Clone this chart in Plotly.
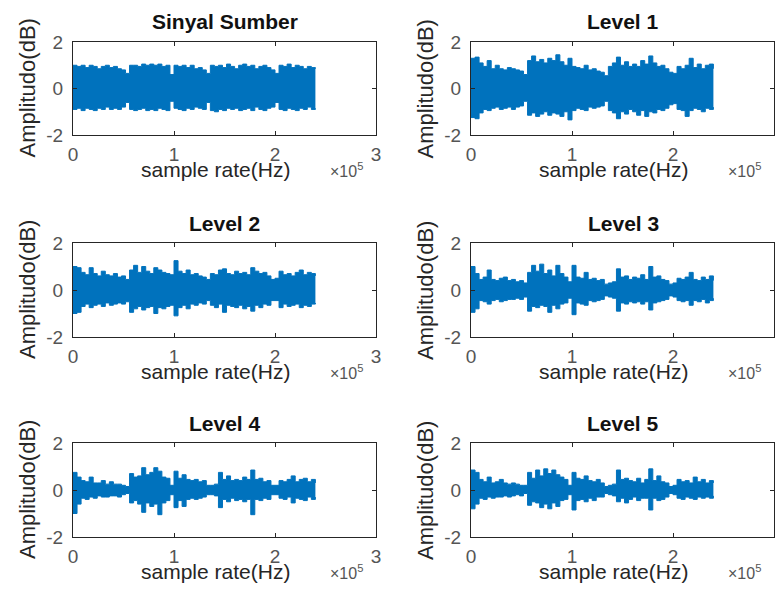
import plotly.graph_objects as go
from plotly.subplots import make_subplots

# ---------------- data (envelope of each waveform) ----------------
panel_titles = ["Sinyal Sumber", "Level 1", "Level 2", "Level 3", "Level 4", "Level 5"]
x_label = "sample rate(Hz)"
y_label = "Amplitudo(dB)"
sample_step = 4000  # samples between envelope readings (0 .. 240000)

x_tick_vals = [0, 100000, 200000, 300000]
x_tick_text = ["0", "1", "2", "3"]
y_tick_vals = [-2, 0, 2]
y_tick_text = ["-2", "0", "2"]

sumber_upper = [1.00, 0.95, 1.00, 0.90, 1.00, 0.95, 0.85, 0.95, 1.00, 0.90,
                0.95, 0.85, 0.80, 0.65, 1.00, 1.00, 0.95, 1.05, 1.00, 1.05,
                1.00, 1.05, 0.95, 1.00, 0.60, 1.00, 0.95, 1.00, 0.90, 1.00,
                0.85, 0.90, 0.80, 0.65, 1.00, 0.95, 1.00, 0.90, 1.05, 0.95,
                0.85, 1.00, 1.05, 0.95, 1.00, 0.85, 0.95, 1.00, 0.90, 0.80,
                0.65, 1.00, 0.95, 1.05, 0.90, 1.00, 0.95, 0.85, 0.95, 0.90,
                0.85]
sumber_lower = [-0.90, -0.85, -0.95, -0.85, -0.90, -0.95, -0.85, -0.90, -0.80, -0.90,
                -0.85, -0.90, -0.80, -0.60, -0.90, -0.95, -0.90, -0.85, -0.95, -0.90,
                -0.95, -0.85, -0.90, -0.95, -0.55, -0.85, -0.90, -0.95, -0.85, -0.90,
                -0.80, -0.85, -0.90, -0.60, -0.95, -1.00, -0.90, -0.95, -0.85, -0.90,
                -0.85, -0.95, -0.90, -0.85, -0.95, -0.80, -0.90, -0.95, -0.85, -0.80,
                -0.60, -0.90, -0.95, -0.85, -0.90, -0.95, -0.85, -0.90, -0.80, -0.90,
                -0.85]

level1_upper = [1.30, 1.35, 1.10, 0.95, 1.20, 0.85, 1.00, 0.85, 0.80, 0.90,
                0.85, 0.80, 0.75, 0.60, 1.20, 1.40, 1.15, 1.25, 1.10, 1.30,
                1.20, 1.45, 1.15, 1.00, 1.30, 0.95, 0.90, 0.85, 1.00, 0.80,
                0.85, 0.75, 0.70, 0.55, 0.95, 1.10, 1.35, 1.00, 1.15, 0.95,
                1.05, 0.95, 1.20, 1.05, 1.40, 1.10, 0.95, 1.00, 0.85, 0.70,
                0.65, 0.95, 0.85, 1.00, 1.30, 0.90, 1.05, 0.85, 1.00, 1.05,
                0.85]
level1_lower = [-1.25, -1.30, -1.05, -0.90, -0.95, -0.85, -0.80, -0.90, -0.85, -0.80,
                -0.90, -0.80, -0.75, -0.55, -1.15, -1.05, -1.20, -1.10, -1.00, -1.15,
                -1.05, -1.10, -1.20, -1.00, -1.35, -0.95, -0.85, -0.90, -0.95, -0.80,
                -0.85, -0.80, -0.75, -0.55, -0.95, -1.05, -1.30, -1.00, -1.10, -0.90,
                -1.00, -1.15, -0.95, -1.20, -1.00, -1.05, -0.90, -0.95, -0.85, -0.70,
                -0.65, -0.90, -0.95, -1.20, -0.95, -0.85, -0.90, -1.00, -0.85, -0.90,
                -0.80]

level2_upper = [1.00, 0.95, 0.75, 0.65, 0.95, 0.70, 0.60, 0.80, 0.65, 0.60,
                0.70, 0.55, 0.60, 0.45, 0.85, 1.05, 0.75, 1.00, 0.80, 0.70,
                0.95, 0.85, 0.75, 0.70, 0.65, 1.25, 0.80, 0.70, 0.85, 0.65,
                0.70, 0.60, 0.55, 0.45, 0.70, 0.65, 0.85, 0.90, 0.70, 0.65,
                0.80, 0.70, 0.75, 0.65, 0.95, 0.80, 0.70, 0.75, 0.60, 0.45,
                0.50, 0.80, 0.65, 0.70, 0.60, 0.75, 0.85, 0.65, 0.75, 0.70,
                0.60]
level2_lower = [-1.00, -0.95, -0.70, -0.60, -0.75, -0.65, -0.60, -0.70, -0.55, -0.65,
                -0.60, -0.55, -0.60, -0.50, -0.95, -0.80, -0.70, -0.85, -0.75, -0.70,
                -1.00, -0.75, -0.80, -0.70, -0.65, -1.10, -0.75, -0.65, -0.80, -0.60,
                -0.65, -0.55, -0.60, -0.45, -0.65, -0.75, -0.60, -0.95, -0.65, -0.70,
                -0.75, -0.65, -0.80, -0.70, -0.90, -0.65, -0.75, -0.60, -0.65, -0.45,
                -0.45, -0.75, -0.60, -0.70, -0.65, -0.60, -0.75, -0.65, -0.70, -0.60,
                -0.55]

level3_upper = [1.00, 0.70, 0.45, 0.55, 0.85, 0.45, 0.40, 0.50, 0.55, 0.40,
                0.45, 0.35, 0.40, 0.30, 0.75, 1.05, 0.80, 1.10, 0.70, 0.85,
                0.60, 1.05, 0.70, 0.55, 0.35, 1.05, 0.55, 0.50, 0.75, 0.45,
                0.50, 0.40, 0.45, 0.25, 0.30, 0.35, 0.90, 0.55, 0.60, 0.45,
                0.55, 0.50, 0.65, 0.45, 1.00, 0.55, 0.60, 0.45, 0.40, 0.25,
                0.30, 0.50, 0.45, 0.55, 0.75, 0.45, 0.40, 0.55, 0.45, 0.60,
                0.40]
level3_lower = [-0.95, -0.80, -0.45, -0.50, -0.60, -0.45, -0.40, -0.50, -0.45, -0.40,
                -0.40, -0.35, -0.40, -0.30, -0.90, -0.70, -0.75, -0.65, -0.70, -0.95,
                -0.65, -0.80, -0.60, -0.55, -0.35, -1.05, -0.55, -0.60, -0.65, -0.45,
                -0.50, -0.45, -0.40, -0.25, -0.30, -0.35, -0.90, -0.55, -0.60, -0.50,
                -0.55, -0.50, -0.60, -0.50, -0.85, -0.55, -0.50, -0.45, -0.40, -0.25,
                -0.30, -0.45, -0.50, -0.45, -0.65, -0.45, -0.50, -0.40, -0.55, -0.45,
                -0.35]

level4_upper = [0.75, 0.55, 0.40, 0.35, 0.55, 0.30, 0.30, 0.40, 0.25, 0.35,
                0.25, 0.25, 0.20, 0.15, 0.70, 0.55, 0.60, 0.95, 0.65, 0.75,
                0.95, 0.80, 0.55, 0.50, 0.20, 0.80, 0.50, 0.65, 0.45, 0.40,
                0.45, 0.35, 0.40, 0.20, 0.20, 0.25, 0.75, 0.45, 0.60, 0.40,
                0.45, 0.40, 0.55, 0.45, 0.85, 0.45, 0.50, 0.35, 0.40, 0.20,
                0.20, 0.40, 0.35, 0.45, 0.60, 0.35, 0.45, 0.50, 0.35, 0.45,
                0.30]
level4_lower = [-1.00, -0.60, -0.35, -0.40, -0.30, -0.35, -0.25, -0.30, -0.30, -0.25,
                -0.25, -0.30, -0.20, -0.15, -0.55, -0.45, -0.60, -0.95, -0.55, -0.70,
                -0.60, -1.05, -0.55, -0.45, -0.20, -0.75, -0.45, -0.70, -0.40, -0.35,
                -0.40, -0.35, -0.30, -0.20, -0.20, -0.25, -0.75, -0.40, -0.50, -0.35,
                -0.45, -0.40, -0.50, -0.40, -1.05, -0.40, -0.45, -0.35, -0.40, -0.20,
                -0.20, -0.35, -0.40, -0.30, -0.55, -0.35, -0.40, -0.45, -0.30, -0.40,
                -0.30]

level5_upper = [0.85, 0.75, 0.45, 0.35, 0.55, 0.30, 0.35, 0.45, 0.30, 0.25,
                0.30, 0.25, 0.20, 0.20, 0.75, 0.50, 0.85, 0.60, 0.90, 0.70,
                0.85, 0.65, 0.55, 0.45, 0.20, 0.75, 0.50, 0.45, 0.60, 0.40,
                0.35, 0.45, 0.30, 0.15, 0.20, 0.25, 0.85, 0.45, 0.50, 0.40,
                0.35, 0.50, 0.30, 0.45, 0.90, 0.40, 0.60, 0.35, 0.30, 0.15,
                0.20, 0.45, 0.35, 0.40, 0.30, 0.55, 0.35, 0.45, 0.30, 0.40,
                0.30]
level5_lower = [-0.80, -0.60, -0.35, -0.40, -0.30, -0.35, -0.30, -0.30, -0.25, -0.30,
                -0.25, -0.20, -0.25, -0.15, -0.65, -0.50, -0.55, -0.75, -0.60, -0.80,
                -0.55, -0.70, -0.45, -0.40, -0.20, -0.85, -0.45, -0.40, -0.50, -0.35,
                -0.45, -0.30, -0.30, -0.15, -0.20, -0.25, -0.50, -0.35, -0.55, -0.40,
                -0.30, -0.45, -0.35, -0.35, -0.85, -0.35, -0.45, -0.40, -0.30, -0.15,
                -0.20, -0.35, -0.40, -0.30, -0.35, -0.40, -0.30, -0.35, -0.30, -0.35,
                -0.25]

uppers = [sumber_upper, level1_upper, level2_upper, level3_upper, level4_upper, level5_upper]
lowers = [sumber_lower, level1_lower, level2_lower, level3_lower, level4_lower, level5_lower]

# ---------------- figure ----------------
W, H = 775, 611
LINE_BLUE = "#0072BD"
AX_COL = "#262626"
TICK_COL = "#555555"
FONT = "Liberation Sans, Arial, sans-serif"

fig = make_subplots(rows=3, cols=2)

# pixel geometry of plot boxes
col_px = [(73, 376), (471, 774)]
row_px = [(42, 135), (243, 337), (443, 537)]


def px_x(v):
    return v / W


def px_y(v):
    return 1 - v / H


for i in range(6):
    r, c = divmod(i, 2)
    up = uppers[i]
    lo = lowers[i]
    xs = [k * sample_step for k in range(len(up))]
    fig.add_trace(go.Scatter(x=xs, y=lo, mode="lines", line=dict(color=LINE_BLUE, width=1, shape="hv"),
                             hoverinfo="skip", showlegend=False), row=r + 1, col=c + 1)
    fig.add_trace(go.Scatter(x=xs, y=up, mode="lines", line=dict(color=LINE_BLUE, width=1, shape="hv"),
                             fill="tonexty", fillcolor=LINE_BLUE,
                             hoverinfo="skip", showlegend=False), row=r + 1, col=c + 1)

    left, right = col_px[c]
    top, bottom = row_px[r]
    fig.update_xaxes(row=r + 1, col=c + 1, domain=[px_x(left), min(px_x(right), 1.0)],
                     range=[0, 300000], automargin=False,
                     tickvals=x_tick_vals, ticktext=x_tick_text,
                     ticks="inside", ticklen=4, tickcolor=AX_COL, tickwidth=1,
                     showline=True, linecolor=AX_COL, linewidth=1, mirror="ticks",
                     showgrid=False, zeroline=False,
                     tickfont=dict(family=FONT, size=19, color=TICK_COL),
                     ticklabelstandoff=2)
    fig.update_yaxes(row=r + 1, col=c + 1, domain=[px_y(bottom), px_y(top)],
                     range=[-2, 2], automargin=False,
                     tickvals=y_tick_vals, ticktext=y_tick_text,
                     ticks="inside", ticklen=4, tickcolor=AX_COL, tickwidth=1,
                     showline=True, linecolor=AX_COL, linewidth=1, mirror="ticks",
                     showgrid=False, zeroline=False,
                     tickfont=dict(family=FONT, size=19, color=TICK_COL),
                     ticklabelstandoff=5)

    # panel title
    cx = (left + (right if c == 0 else 775)) / 2
    fig.add_annotation(text="<b>" + panel_titles[i] + "</b>", xref="paper", yref="paper",
                       x=px_x(cx), y=px_y(top - 20), xanchor="center", yanchor="middle",
                       showarrow=False, font=dict(family=FONT, size=21, color="#111111"))
    # x axis label
    fig.add_annotation(text=x_label, xref="paper", yref="paper",
                       x=px_x(left + 142), y=px_y(bottom + 34), xanchor="center", yanchor="middle",
                       showarrow=False, font=dict(family=FONT, size=21, color=AX_COL))
    # y axis label
    fig.add_annotation(text=y_label, xref="paper", yref="paper", textangle=-90,
                       x=px_x(left - 46), y=px_y((top + bottom) / 2), xanchor="center", yanchor="middle",
                       showarrow=False, font=dict(family=FONT, size=22, color=AX_COL))
    # exponent label
    fig.add_annotation(text="×10<sup>5</sup>", xref="paper", yref="paper",
                       x=px_x(left + 255), y=px_y(bottom + 35),
                       xanchor="left", yanchor="middle", showarrow=False,
                       font=dict(family=FONT, size=16, color=TICK_COL))

fig.update_layout(width=W, height=H, margin=dict(l=0, r=0, t=0, b=0),
                  paper_bgcolor="white", plot_bgcolor="white", showlegend=False)

fig.write_html("out.html", config={"displayModeBar": False},
               post_script="document.body.style.margin='0';document.body.style.overflow='hidden';")
